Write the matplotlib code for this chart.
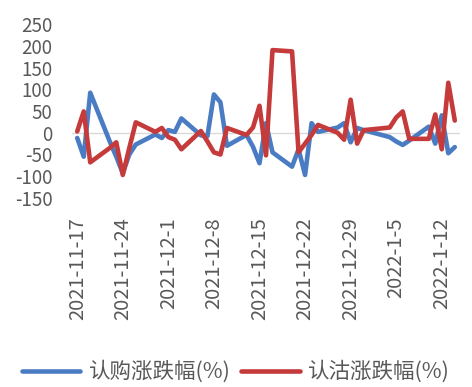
import matplotlib
matplotlib.use("Agg")
import matplotlib.pyplot as plt
import matplotlib.dates as mdates
import pandas as pd

plt.rcParams['font.family'] = ['Noto Sans CJK SC', 'DejaVu Sans']

# Trading days and daily percentage changes of call / put options
dates = [
    "2021-11-17", "2021-11-18", "2021-11-19", "2021-11-22", "2021-11-23",
    "2021-11-24", "2021-11-25", "2021-11-26", "2021-11-29", "2021-11-30",
    "2021-12-01", "2021-12-02", "2021-12-03", "2021-12-06", "2021-12-07",
    "2021-12-08", "2021-12-09", "2021-12-10", "2021-12-13", "2021-12-14",
    "2021-12-15", "2021-12-16", "2021-12-17", "2021-12-20", "2021-12-21",
    "2021-12-22", "2021-12-23", "2021-12-24", "2021-12-27", "2021-12-28",
    "2021-12-29", "2021-12-30", "2021-12-31", "2022-01-04", "2022-01-05",
    "2022-01-06", "2022-01-07", "2022-01-10", "2022-01-11", "2022-01-12",
    "2022-01-13", "2022-01-14",
]
call_change = [
    -12, -55, 92, -20, -55, -93, -50, -27, -4, -12,
    6, 2, 33, -6, -8, 88, 70, -30, -5, -32,
    -70, 22, -45, -78, -38, -97, 22, 2, 12, 22,
    -22, 11, 6, -10, -20, -28, -18, 14, -25, 40,
    -47, -33,
]
put_change = [
    3, 49, -68, -35, -22, -97, -35, 24, 2, 11,
    -10, -16, -38, 4, -20, -45, -50, 11, -5, 12,
    62, -52, 190, 187, -45, -25, -5, 18, 0, -16,
    76, -25, 6, 12, 35, 49, -14, -14, 42, -38,
    115, 28,
]
tick_labels = ["2021-11-17", "2021-11-24", "2021-12-1", "2021-12-8",
               "2021-12-15", "2021-12-22", "2021-12-29", "2022-1-5",
               "2022-1-12"]
series_names = ["认购涨跌幅(%)", "认沽涨跌幅(%)"]
y_ticks = [250, 200, 150, 100, 50, 0, -50, -100, -150]

W, H = 472, 387
fig = plt.figure(figsize=(W / 100, H / 100), dpi=100)
ax = fig.add_axes([72 / W, 1 - 198 / H, (460 - 72) / W, (198 - 24) / H])

x = pd.to_datetime(dates)
blue = "#4a7cc4"
red = "#c53a3b"
ax.axhline(0, color="#d9d9d9", lw=1.0, zorder=1)
ax.plot(x, call_change, color=blue, lw=3.3, solid_joinstyle="round",
        solid_capstyle="round", label=series_names[0], zorder=2)
ax.plot(x, put_change, color=red, lw=3.3, solid_joinstyle="round",
        solid_capstyle="round", label=series_names[1], zorder=3)

start = pd.Timestamp(dates[0])
end = pd.Timestamp(dates[-1])
ax.set_xlim(mdates.date2num(start) - 0.8, mdates.date2num(end) + 0.8)
ax.set_ylim(-150, 250)

tick_pos = [pd.Timestamp(t) for t in tick_labels]
ax.set_xticks(tick_pos)
ax.set_xticklabels(tick_labels, rotation=90, va="top", ha="center")
ax.set_yticks(y_ticks)
ax.set_yticklabels([str(v) for v in y_ticks])

ax.tick_params(axis="both", length=0, colors="#595959")
ax.tick_params(axis="x", pad=14, labelsize=14.5)
ax.tick_params(axis="y", pad=14, labelsize=13.5)
for s in ax.spines.values():
    s.set_visible(False)

fig.legend(loc="center", bbox_to_anchor=(0.5, 1 - 372 / H), ncol=2,
           frameon=False, fontsize=15.5, handlelength=2.7, handletextpad=0.4,
           columnspacing=0.5, labelcolor="#595959")

fig.savefig("out.png", dpi=100)
